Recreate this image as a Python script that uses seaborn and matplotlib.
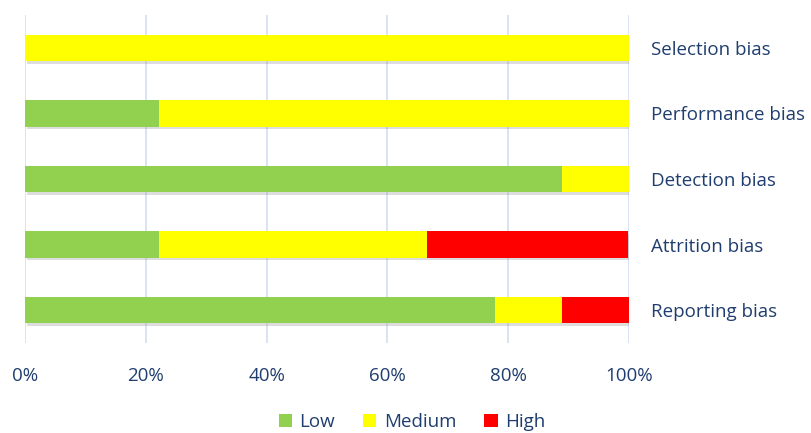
import matplotlib
matplotlib.use("Agg")
import matplotlib.pyplot as plt
import matplotlib.patheffects as pe
from matplotlib.patches import Patch
import seaborn as sns
import pandas as pd
import numpy as np

categories = ["Selection bias", "Performance bias", "Detection bias", "Attrition bias", "Reporting bias"]
low = [0.0, 22.2, 88.9, 22.2, 77.8]
medium = [100.0, 77.8, 11.1, 44.4, 11.1]
high = [0.0, 0.0, 0.0, 33.3, 11.1]
series_names = ["Low", "Medium", "High"]
colors = ["#92D050", "#FFFF00", "#FF0000"]
xticks = [0, 20, 40, 60, 80, 100]
xticklabels = ["0%", "20%", "40%", "60%", "80%", "100%"]

text_color = "#1F3D6E"
sns.set_theme(style="white")
plt.rcParams["font.family"] = ["Open Sans", "DejaVu Sans"]
fs = 13.5

df = pd.DataFrame({"cat": categories, "Low": low, "Medium": medium, "High": high})
df["c_low"] = df["Low"]
df["c_med"] = df["Low"] + df["Medium"]
df["c_high"] = df["Low"] + df["Medium"] + df["High"]

fig = plt.figure(figsize=(8.12, 4.33), dpi=100)
ax = fig.add_axes([25/812, 1-343/433, (629-25)/812, (343-15)/433])

shadow = [pe.SimplePatchShadow(offset=(1.5, -2), shadow_rgbFace="#909090", alpha=0.3), pe.Normal()]
for col, c in zip(["c_high", "c_med", "c_low"], [colors[2], colors[1], colors[0]]):
    sns.barplot(data=df, x=col, y="cat", order=categories, color=c, orient="h",
                width=0.4, saturation=1, ax=ax, linewidth=0, errorbar=None)

for i, p in enumerate(ax.patches):
    if i < len(categories):
        p.set_path_effects(shadow)

ax.set_xlim(0, 100)
ax.set_ylim(4.5, -0.5)
ax.set_xticks(xticks)
ax.set_xticklabels(xticklabels, color=text_color, fontsize=fs)
ax.xaxis.grid(True, color="#D5E1F2", linewidth=1.3)
ax.set_axisbelow(True)
ax.tick_params(axis="x", length=0, pad=17)
ax.yaxis.tick_right()
ax.tick_params(axis="y", length=0, pad=16, labelsize=fs, labelcolor=text_color)
ax.set_xlabel("")
ax.set_ylabel("")
for s in ax.spines.values():
    s.set_visible(False)

handles = [Patch(facecolor=c, edgecolor="none", label=n) for n, c in zip(series_names, colors)]
leg = fig.legend(handles=handles, loc="center", bbox_to_anchor=(412/812, 1-422/433), ncol=3,
                 frameon=False, fontsize=fs, handlelength=0.7, handleheight=0.7,
                 handletextpad=0.4, columnspacing=1.5)
for t in leg.get_texts():
    t.set_color(text_color)

fig.savefig("out.png", dpi=100)
